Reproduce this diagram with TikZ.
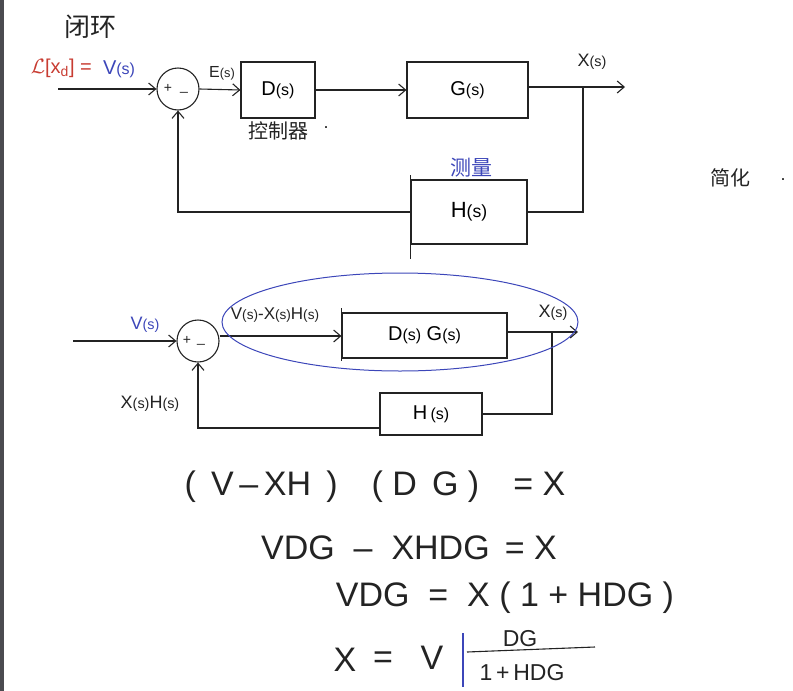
\documentclass[tikz,border=0pt]{standalone}
\usepackage{fontspec}
\setmainfont{Liberation Sans}
\newfontfamily\cjk{Noto Sans CJK SC}
\usetikzlibrary{arrows.meta}
\definecolor{ink}{RGB}{35,35,35}
\definecolor{inkred}{RGB}{200,60,50}
\definecolor{inkblue}{RGB}{60,70,185}
\definecolor{barg}{RGB}{75,75,80}
\newcommand\ps{\scalebox{0.8}{(s)}}
\tikzset{
  wire/.style={draw=ink, line width=1.1pt},
  arr/.style={wire, -{Straight Barb[length=7pt,width=12pt,line width=1.1pt]}},
  blk/.style={draw=ink, line width=1.1pt, rectangle, inner sep=0pt},
  sumc/.style={draw=ink, line width=1.1pt, circle, minimum size=42pt, inner sep=0pt},
  lbl/.style={text=ink, inner sep=0pt},
  eq/.style={text=ink, inner sep=0pt, font=\fontsize{34}{40}\selectfont},
}
\begin{document}
\begin{tikzpicture}[x=1pt,y=-1pt]
\useasboundingbox (0,0) rectangle (793,691);
\fill[barg] (0,0) rectangle (4,691);

% ---------- first diagram ----------
\node[lbl, font=\cjk\fontsize{26}{30}\selectfont] (title) at (90,27) {闭环};
\node[lbl, text=inkred, font=\fontsize{20}{24}\selectfont, anchor=east] (laplace) at (92,68) {$\mathcal{L}$[x\textsubscript{d}] =};
\node[lbl, text=inkblue, font=\fontsize{20}{24}\selectfont] (V1) at (119,69) {V\ps};

\node[sumc] (S1) at (178,89) {};
\node[lbl, font=\fontsize{14}{16}\selectfont] (p1) at (168,88) {+};
\node[lbl, font=\fontsize{14}{16}\selectfont] (m1) at (184,92) {\_};

\node[blk, minimum width=74pt, minimum height=56pt, font=\fontsize{20}{24}\selectfont] (D) at (278,90) {D\ps};
\node[lbl, font=\cjk\fontsize{20}{24}\selectfont] (ctrl) at (278,131) {控制器};
\node[lbl, font=\fontsize{18}{20}\selectfont] (dot1) at (326,128) {.};
\node[blk, minimum width=121pt, minimum height=56pt, font=\fontsize{20}{24}\selectfont] (G) at (467.5,90) {G\ps};
\node[blk, minimum width=116pt, minimum height=64pt, font=\fontsize{22}{26}\selectfont] (H1) at (469,212) {H\ps};
\node[lbl, text=inkblue, font=\cjk\fontsize{21}{24}\selectfont] (meas) at (471,168) {测量};

\node[lbl, font=\fontsize{16}{18}\selectfont] (E) at (222,73) {E\ps};
\node[lbl, font=\fontsize{18}{20}\selectfont] (X1) at (592,62) {X\ps};

\coordinate (in1) at (58,89);
\coordinate (out1) at (625,87);
\coordinate (b1) at (583,87);
\draw[arr] (in1) -- (S1.west);
\draw[arr] (S1.east) -- (D.west);
\draw[arr] (D.east) -- (G.west);
\draw[arr] (G.east |- out1) -- (out1);
\draw[wire] (b1) |- (H1.east);
\draw[arr] (H1.west) -| (S1.south);
\draw[wire] ([yshift=4pt]H1.north west) -- ([yshift=-14pt]H1.south west);

\node[lbl, font=\cjk\fontsize{20}{24}\selectfont] (simp) at (730,178) {简化};
\node[lbl, font=\fontsize{18}{20}\selectfont] (dot2) at (783,180) {.};

% ---------- second diagram ----------
\node[sumc] (S2) at (198,341) {};
\node[lbl, font=\fontsize{14}{16}\selectfont] (p2) at (187,340) {+};
\node[lbl, font=\fontsize{14}{16}\selectfont] (m2) at (201,344) {\_};
\node[blk, minimum width=165pt, minimum height=45pt, font=\fontsize{20}{24}\selectfont] (DG) at (424.5,335.5) {D\ps\ G\ps};
\node[blk, minimum width=102pt, minimum height=42pt, font=\fontsize{20}{24}\selectfont] (H2) at (431,414) {H\,\ps};

\node[lbl, text=inkblue, font=\fontsize{18}{20}\selectfont] (V2) at (145,325) {V\ps};
\node[lbl, font=\fontsize{17}{20}\selectfont] (err) at (275,315) {V\ps-X\ps H\ps};
\node[lbl, font=\fontsize{18}{20}\selectfont] (X2) at (553,313) {X\ps};
\node[lbl, font=\fontsize{18}{20}\selectfont] (XH) at (150,404) {X\ps H\ps};

\coordinate (in2) at (73,341);
\coordinate (out2) at (578,332);
\coordinate (b2) at (552,332);
\draw[arr] (in2) -- (S2.west);
\draw[arr] (S2.east |- 0,336) -- (DG.west |- 0,336);
\draw[wire] ([yshift=4pt]DG.north west) -- ([yshift=-2pt]DG.south west);
\draw[arr] (DG.east |- out2) -- (out2);
\draw[wire] (b2) |- (H2.east);
\draw[arr] (H2.west |- 0,428) -| (S2.south);

\draw[inkblue, line width=1pt] (400,322) ellipse [x radius=178, y radius=49];

% ---------- equations ----------
\node[eq] (eq1) at (375,487) {(\, V\,--\,XH\, )\quad ( D\, G )\quad = X};
\node[eq] (eq2) at (409,548) {VDG\ \ --\ \ XHDG\ \,= X};
\node[eq] (eq3) at (505,598) {VDG\ \ =\ \ X ( 1 + HDG )};
\node[eq] (eqX) at (345,660) {X};
\node[eq] (eqeq) at (383,660) {=};
\node[eq] (eqV) at (432,658) {V};
\draw[inkblue, line width=1.2pt] (463,633) -- (463,687);
\node[lbl, font=\fontsize{23}{26}\selectfont] (num) at (520,639) {DG};
\node[lbl, font=\fontsize{23}{26}\selectfont] (den) at (522,673) {1\,+\,HDG};
\draw[wire] (467,652) -- (595,647);
\end{tikzpicture}
\end{document}
